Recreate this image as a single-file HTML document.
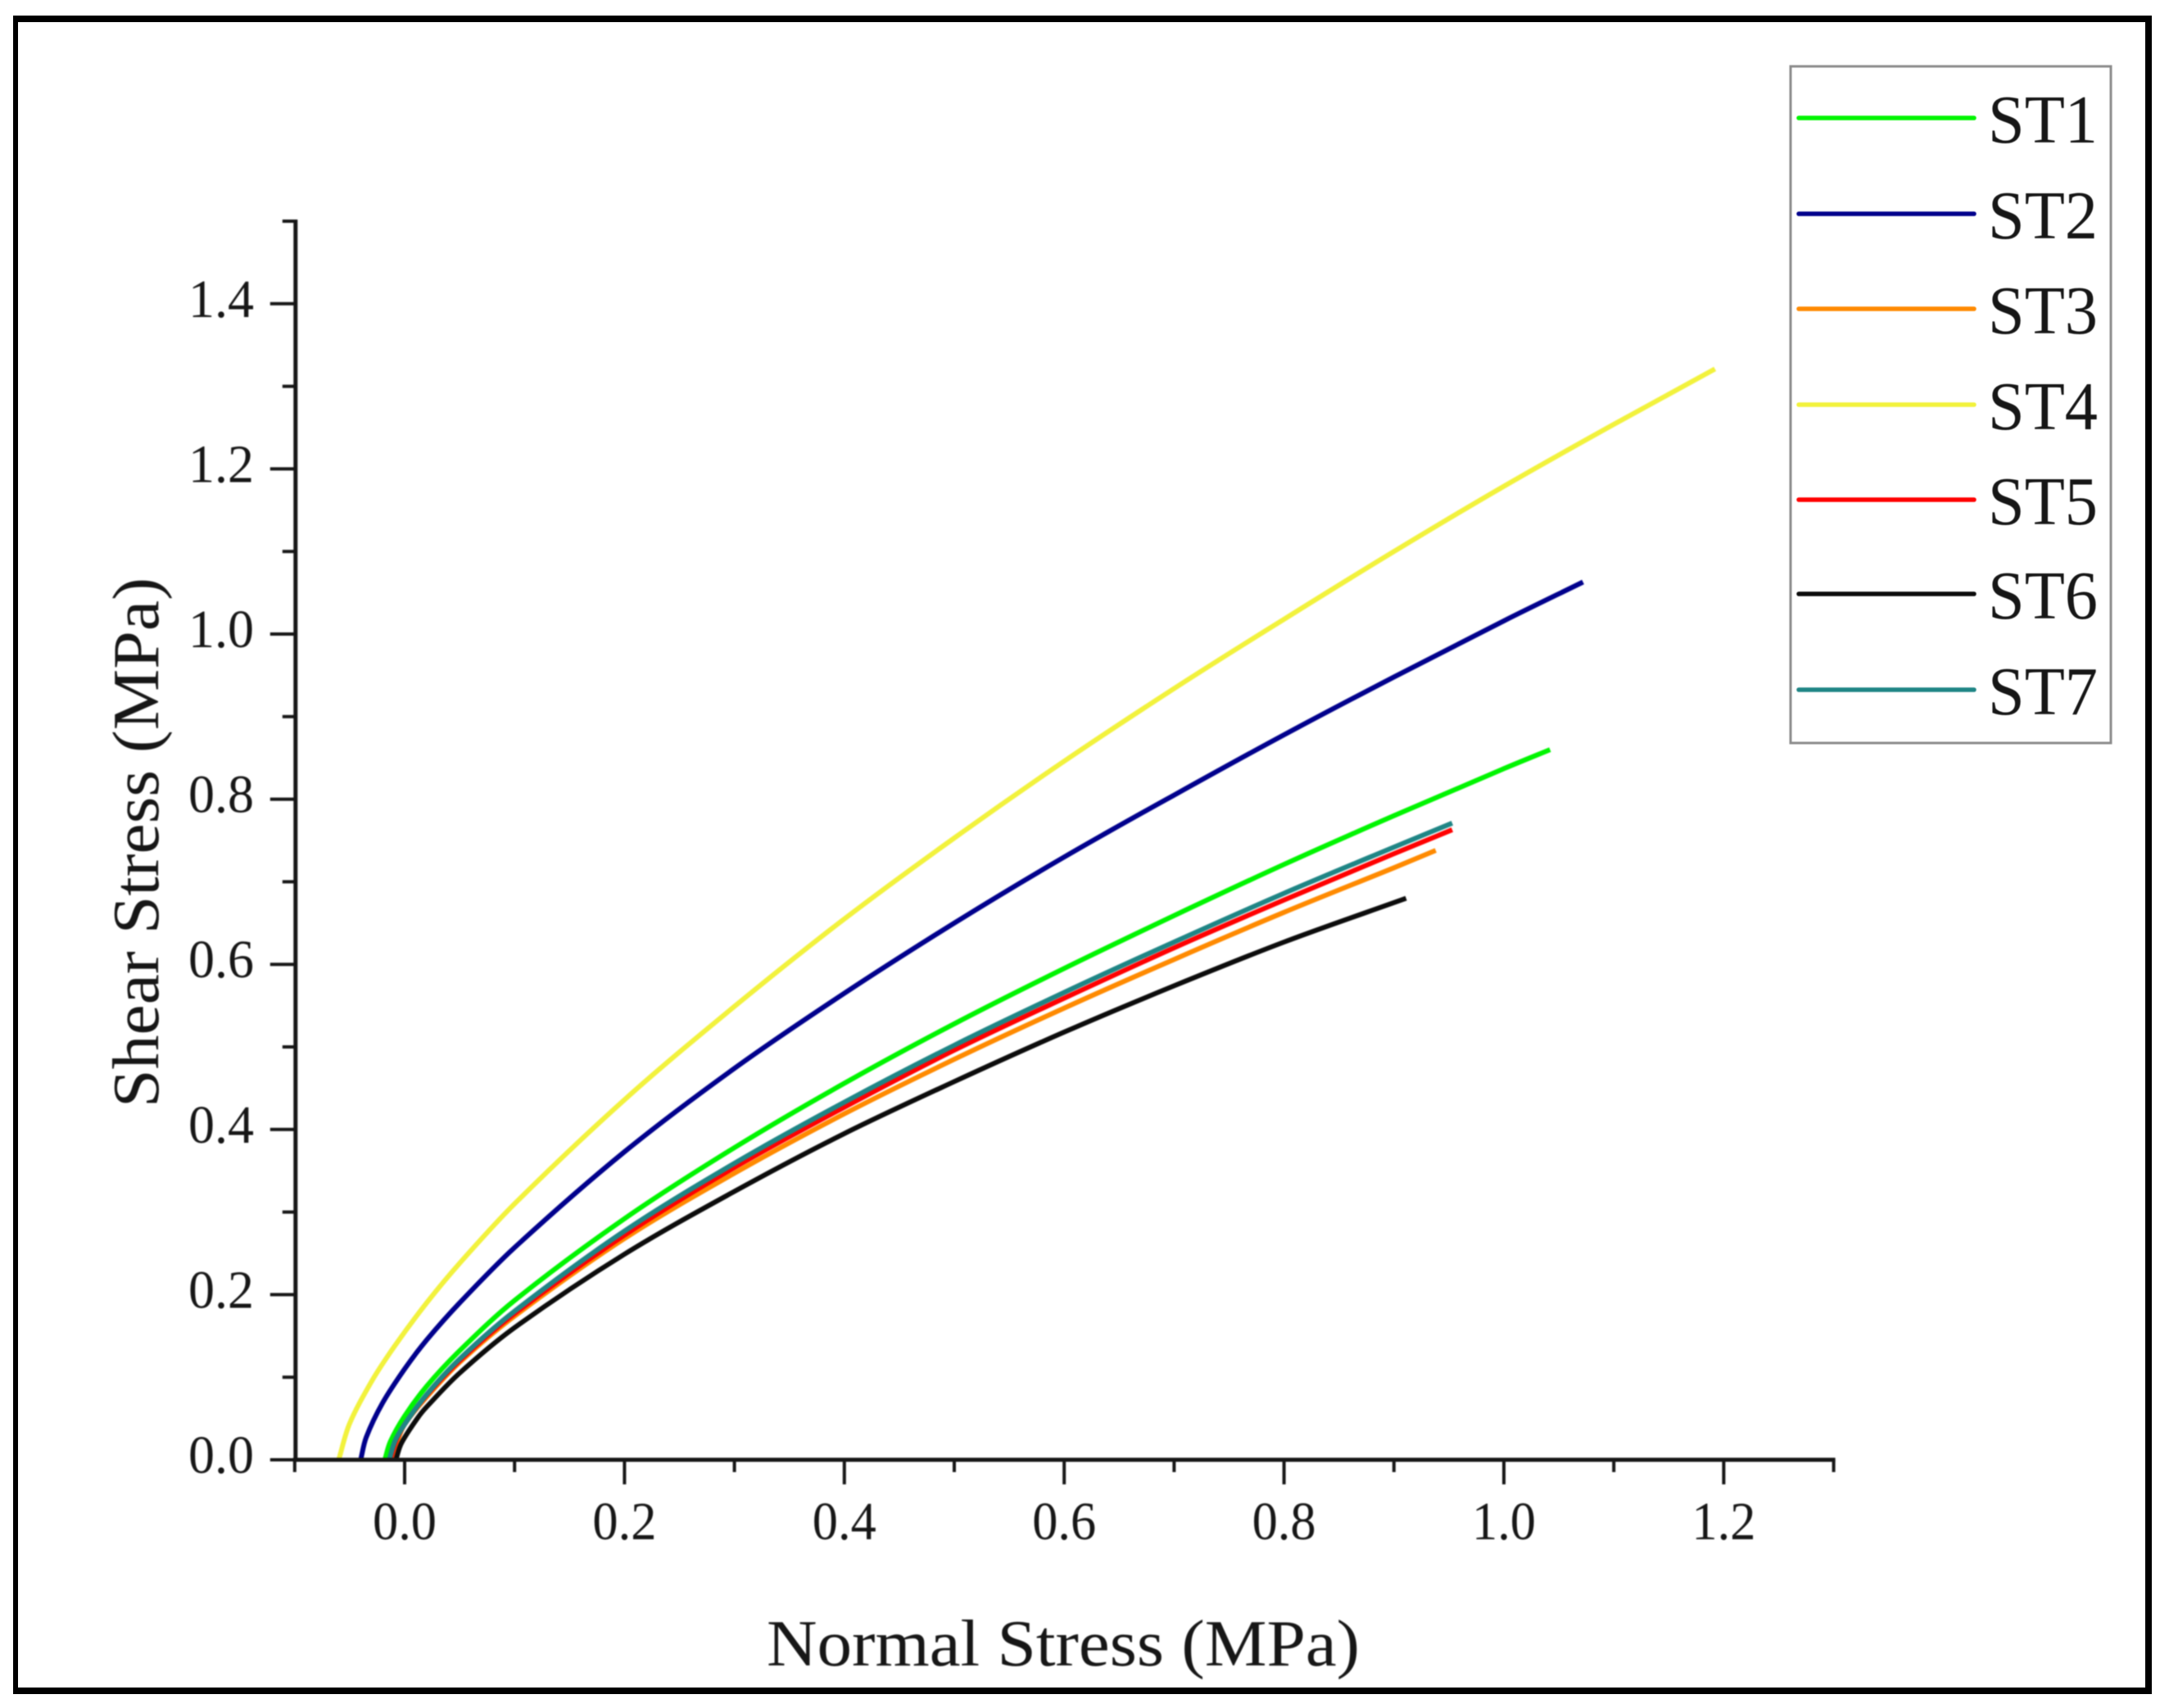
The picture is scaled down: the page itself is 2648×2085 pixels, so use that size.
<!DOCTYPE html>
<html lang="en">
<head>
<meta charset="utf-8">
<title>Shear Stress vs Normal Stress</title>
<style>
html,body{margin:0;padding:0;background:#fff;}
svg{display:block;}
text{font-family:"Liberation Serif",serif;fill:#161616;}
</style>
</head>
<body>
<svg id="chart" xmlns="http://www.w3.org/2000/svg" width="2648" height="2085" viewBox="0 0 2648 2085">
  <rect x="0" y="0" width="2648" height="2085" fill="#ffffff"/>
  <rect x="16" y="19" width="2611" height="2049" fill="#000000"/>
  <rect x="22" y="27" width="2597" height="2033" fill="#ffffff"/>
  <g id="plot" style="filter:blur(0.7px)"></g>
  <text style="filter:blur(0.7px)" x="936" y="2033" font-size="80" textLength="724" lengthAdjust="spacingAndGlyphs">Normal Stress (MPa)</text>
  <text style="filter:blur(0.7px)" transform="translate(193,1352) rotate(-90)" x="0" y="0" font-size="80" textLength="647" lengthAdjust="spacingAndGlyphs">Shear Stress (MPa)</text>
  <g id="legend" style="filter:blur(0.6px)">
    <rect x="2186" y="81" width="391" height="826" fill="#ffffff" stroke="#8c8c8c" stroke-width="3"/>
  </g>
</svg>
<script>
// Axis ticks
var xMajorTicks = [0, 0.2, 0.4, 0.6, 0.8, 1.0, 1.2];
var xMinorTicks = [-0.1, 0.1, 0.3, 0.5, 0.7, 0.9, 1.1, 1.3];
var yMajorTicks = [0, 0.2, 0.4, 0.6, 0.8, 1.0, 1.2, 1.4];
var yMinorTicks = [0.1, 0.3, 0.5, 0.7, 0.9, 1.1, 1.3, 1.5];
var xTickLabels = ["0.0", "0.2", "0.4", "0.6", "0.8", "1.0", "1.2"];
var yTickLabels = ["0.0", "0.2", "0.4", "0.6", "0.8", "1.0", "1.2", "1.4"];

// Series: normal stress (x) and shear stress (y), estimated from the figure
var seriesNames = ["ST1", "ST2", "ST3", "ST4", "ST5", "ST6", "ST7"];

var st1Normal = [-0.018, -0.013, 0, 0.02, 0.05, 0.1, 0.2, 0.3, 0.4, 0.5, 0.6, 0.7, 0.8, 0.9, 1.0, 1.042];
var st1Shear  = [0, 0.022, 0.053, 0.089, 0.132, 0.193, 0.292, 0.378, 0.456, 0.528, 0.595, 0.659, 0.721, 0.780, 0.837, 0.860];

var st2Normal = [-0.040, -0.035, -0.02, 0, 0.02, 0.05, 0.1, 0.2, 0.3, 0.4, 0.5, 0.6, 0.7, 0.8, 0.9, 1.0, 1.072];
var st2Shear  = [0, 0.027, 0.069, 0.110, 0.145, 0.190, 0.257, 0.373, 0.474, 0.565, 0.650, 0.730, 0.805, 0.878, 0.948, 1.016, 1.063];

var st3Normal = [-0.012, -0.007, 0, 0.02, 0.05, 0.1, 0.2, 0.3, 0.4, 0.5, 0.6, 0.7, 0.8, 0.9, 0.938];
var st3Shear  = [0, 0.021, 0.043, 0.076, 0.118, 0.174, 0.268, 0.347, 0.419, 0.485, 0.547, 0.606, 0.663, 0.717, 0.738];

var st4Normal = [-0.060, -0.05, -0.03, -0.01, 0.02, 0.05, 0.1, 0.2, 0.3, 0.4, 0.5, 0.6, 0.7, 0.8, 0.9, 1.0, 1.1, 1.192];
var st4Shear  = [0, 0.044, 0.095, 0.136, 0.190, 0.238, 0.310, 0.436, 0.549, 0.655, 0.753, 0.846, 0.934, 1.018, 1.100, 1.179, 1.254, 1.321];

var st5Normal = [-0.013, -0.008, 0, 0.02, 0.05, 0.1, 0.2, 0.3, 0.4, 0.5, 0.6, 0.7, 0.8, 0.9, 0.953];
var st5Shear  = [0, 0.022, 0.043, 0.078, 0.120, 0.177, 0.272, 0.354, 0.427, 0.496, 0.559, 0.620, 0.678, 0.734, 0.763];

var st6Normal = [-0.008, -0.003, 0.012, 0.02, 0.05, 0.1, 0.2, 0.3, 0.4, 0.5, 0.6, 0.7, 0.8, 0.911];
var st6Shear  = [0, 0.020, 0.051, 0.064, 0.105, 0.160, 0.249, 0.325, 0.395, 0.458, 0.518, 0.574, 0.627, 0.680];

var st7Normal = [-0.014, -0.009, 0, 0.02, 0.05, 0.1, 0.2, 0.3, 0.4, 0.5, 0.6, 0.7, 0.8, 0.9, 0.953];
var st7Shear  = [0, 0.022, 0.043, 0.079, 0.122, 0.180, 0.277, 0.359, 0.433, 0.502, 0.566, 0.627, 0.686, 0.742, 0.771];

var allNormal = [st1Normal, st2Normal, st3Normal, st4Normal, st5Normal, st6Normal, st7Normal];
var allShear = [st1Shear, st2Shear, st3Shear, st4Shear, st5Shear, st6Shear, st7Shear];
var seriesColors = ["#00f500", "#00008c", "#ff8a00", "#f2f23c", "#ff0000", "#0c0c0c", "#1f8585"];

var NS = "http://www.w3.org/2000/svg";
var plot = document.getElementById("plot");
var legend = document.getElementById("legend");

function sx(v) { return 494 + v * 1342; }
function sy(v) { return 1782 - v * 1008; }

function mk(parent, tag, attrs) {
  var el = document.createElementNS(NS, tag);
  for (var k in attrs) { el.setAttribute(k, attrs[k]); }
  parent.appendChild(el);
  return el;
}

// Chord-length spline through the data points
function smoothPath(xs, ys) {
  var p = [], t = [0], i;
  for (i = 0; i < xs.length; i++) { p.push([sx(xs[i]), sy(ys[i])]); }
  for (i = 1; i < p.length; i++) {
    t.push(t[i - 1] + Math.hypot(p[i][0] - p[i - 1][0], p[i][1] - p[i - 1][1]));
  }
  function slope(k, c) {
    var a = Math.max(0, k - 1), b = Math.min(p.length - 1, k + 1);
    return (p[b][c] - p[a][c]) / (t[b] - t[a]);
  }
  var d = "M" + p[0][0].toFixed(1) + " " + p[0][1].toFixed(1);
  for (i = 0; i < p.length - 1; i++) {
    var h = (t[i + 1] - t[i]) / 3;
    var c1x = p[i][0] + slope(i, 0) * h, c1y = p[i][1] + slope(i, 1) * h;
    var c2x = p[i + 1][0] - slope(i + 1, 0) * h, c2y = p[i + 1][1] - slope(i + 1, 1) * h;
    d += "C" + c1x.toFixed(1) + " " + c1y.toFixed(1) + " " + c2x.toFixed(1) + " " + c2y.toFixed(1) + " " + p[i + 1][0].toFixed(1) + " " + p[i + 1][1].toFixed(1);
  }
  return d;
}

// Series curves
seriesNames.forEach(function (name, i) {
  var path = mk(plot, "path", {
    d: smoothPath(allNormal[i], allShear[i]),
    fill: "none",
    stroke: seriesColors[i],
    "stroke-width": 6,
    "stroke-linejoin": "round"
  });
  
  
});

// Axis lines
var xLine = mk(plot, "line", { x1: sx(-0.1) - 2, x2: sx(1.3) + 2, y1: sy(0), y2: sy(0), stroke: "#161616", "stroke-width": 5 });


var yLine = mk(plot, "line", { x1: sx(-0.1) + 1, x2: sx(-0.1) + 1, y1: sy(1.5) - 2, y2: sy(0), stroke: "#161616", "stroke-width": 5 });



// X ticks
xMajorTicks.forEach(function (v, i) {
  var t = mk(plot, "line", { x1: sx(v), x2: sx(v), y1: sy(0), y2: sy(0) + 30, stroke: "#161616", "stroke-width": 4 });
  
  
  var l = mk(plot, "text", { x: sx(v), y: 1879, "font-size": 66, "text-anchor": "middle", textLength: 78, lengthAdjust: "spacingAndGlyphs" });
  l.textContent = xTickLabels[i];
  
  
});
xMinorTicks.forEach(function (v) {
  var t = mk(plot, "line", { x1: sx(v), x2: sx(v), y1: sy(0), y2: sy(0) + 15, stroke: "#161616", "stroke-width": 4 });
  
  
});

// Y ticks
yMajorTicks.forEach(function (v, i) {
  var t = mk(plot, "line", { x1: sx(-0.1), x2: sx(-0.1) - 30, y1: sy(v), y2: sy(v), stroke: "#161616", "stroke-width": 4 });
  
  
  var l = mk(plot, "text", { x: 310, y: sy(v) + 16, "font-size": 66, "text-anchor": "end", textLength: 80, lengthAdjust: "spacingAndGlyphs" });
  l.textContent = yTickLabels[i];
  
  
});
yMinorTicks.forEach(function (v) {
  var t = mk(plot, "line", { x1: sx(-0.1), x2: sx(-0.1) - 15, y1: sy(v), y2: sy(v), stroke: "#161616", "stroke-width": 4 });
  
  
});

// Legend
var legendRows = [144, 261, 377, 494, 610, 725, 842];
seriesNames.forEach(function (name, i) {
  var s = mk(legend, "line", { x1: 2196, x2: 2410, y1: legendRows[i], y2: legendRows[i], stroke: seriesColors[i], "stroke-width": 5.5, "stroke-linecap": "round" });
  
  
  var t = mk(legend, "text", { x: 2427, y: legendRows[i] + 30, "font-size": 84, textLength: 134, lengthAdjust: "spacingAndGlyphs" });
  t.textContent = name;
  
  
});
</script>
</body>
</html>
